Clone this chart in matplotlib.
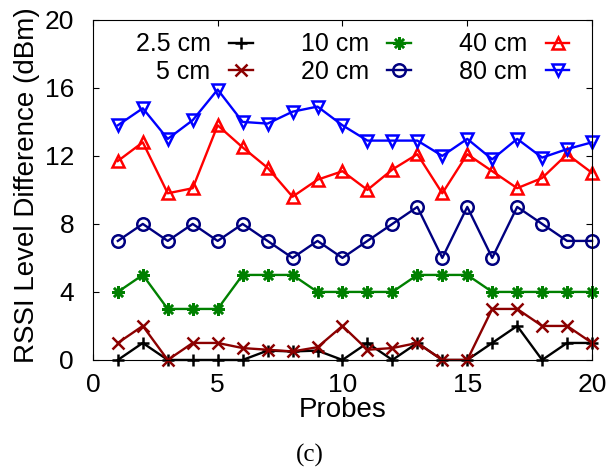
import matplotlib.pyplot as plt

probes = list(range(1, 21))

d_2_5cm = [0, 1, 0, 0, 0, 0, 0.55, 0.5, 0.55, 0, 1, 0, 1, 0, 0, 1, 2, 0, 1, 1]
d_5cm = [1, 2, 0, 1, 1, 0.7, 0.6, 0.5, 0.75, 2, 0.6, 0.7, 1, 0, 0, 3, 3, 2, 2, 1]
d_10cm = [4, 5, 3, 3, 3, 5, 5, 5, 4, 4, 4, 4, 5, 5, 5, 4, 4, 4, 4, 4]
d_20cm = [7, 8, 7, 8, 7, 8, 7, 6, 7, 6, 7, 8, 9, 6, 9, 6, 9, 8, 7, 7]
d_40cm = [11.7, 12.8, 9.8, 10.1, 13.8, 12.5, 11.3, 9.6, 10.6, 11.1,
          10.0, 11.2, 12.1, 9.8, 12.1, 11.1, 10.1, 10.7, 12.1, 11.0]
d_80cm = [13.8, 14.8, 13.0, 14.1, 15.9, 14.0, 13.9, 14.6, 14.9, 13.8,
          12.9, 12.9, 12.9, 12.0, 13.0, 11.8, 13.0, 11.9, 12.4, 12.8]

labels = ["2.5 cm", "   5 cm", "10 cm", "20 cm", "40 cm", "80 cm"]
series = [d_2_5cm, d_5cm, d_10cm, d_20cm, d_40cm, d_80cm]
colors = ["black", "#8b0000", "#008000", "#000080", "#ff0000", "#0000ff"]
markers = ["+", "x", (8, 2, 0), "o", "^", "v"]

plt.rcParams["font.family"] = ["Liberation Sans", "DejaVu Sans"]

fig = plt.figure(figsize=(6.11, 4.73), dpi=100)
ax = fig.add_axes([0.152, 0.239, 0.817, 0.719])

for vals, lab, col, mk in zip(series, labels, colors, markers):
    ax.plot(
        probes,
        vals,
        color=col,
        marker=mk,
        markersize=9,
        markeredgewidth=1.8,
        markerfacecolor="none",
        linewidth=1.7,
        label=lab,
        clip_on=False,
    )

ax.set_xlim(0, 20)
ax.set_ylim(0, 20)
ax.set_xticks([0, 5, 10, 15, 20])
ax.set_yticks([0, 4, 8, 12, 16, 20])
ax.tick_params(direction="in", top=True, right=True, length=4.5,
               labelsize=19)
ax.tick_params(axis="x", pad=9.5)
ax.tick_params(axis="y", pad=13.5)
ax.set_xlabel("Probes", fontsize=20, labelpad=0)
ax.set_ylabel("RSSI Level Difference (dBm)", fontsize=20, labelpad=4)
ax.yaxis.set_label_coords(-0.105, 0.515)

ax.legend(
    ncol=3,
    loc="upper center",
    bbox_to_anchor=(0.52, 1.0),
    frameon=False,
    markerfirst=False,
    fontsize=18,
    handlelength=0.95,
    columnspacing=1.9,
    handletextpad=0.75,
    labelspacing=0.15,
    borderaxespad=0.1,
)

fig.text(0.507, 0.037, "(c)", ha="center", va="center",
         fontsize=18, family="Liberation Serif")

plt.savefig("out.png", dpi=100)
plt.close()
